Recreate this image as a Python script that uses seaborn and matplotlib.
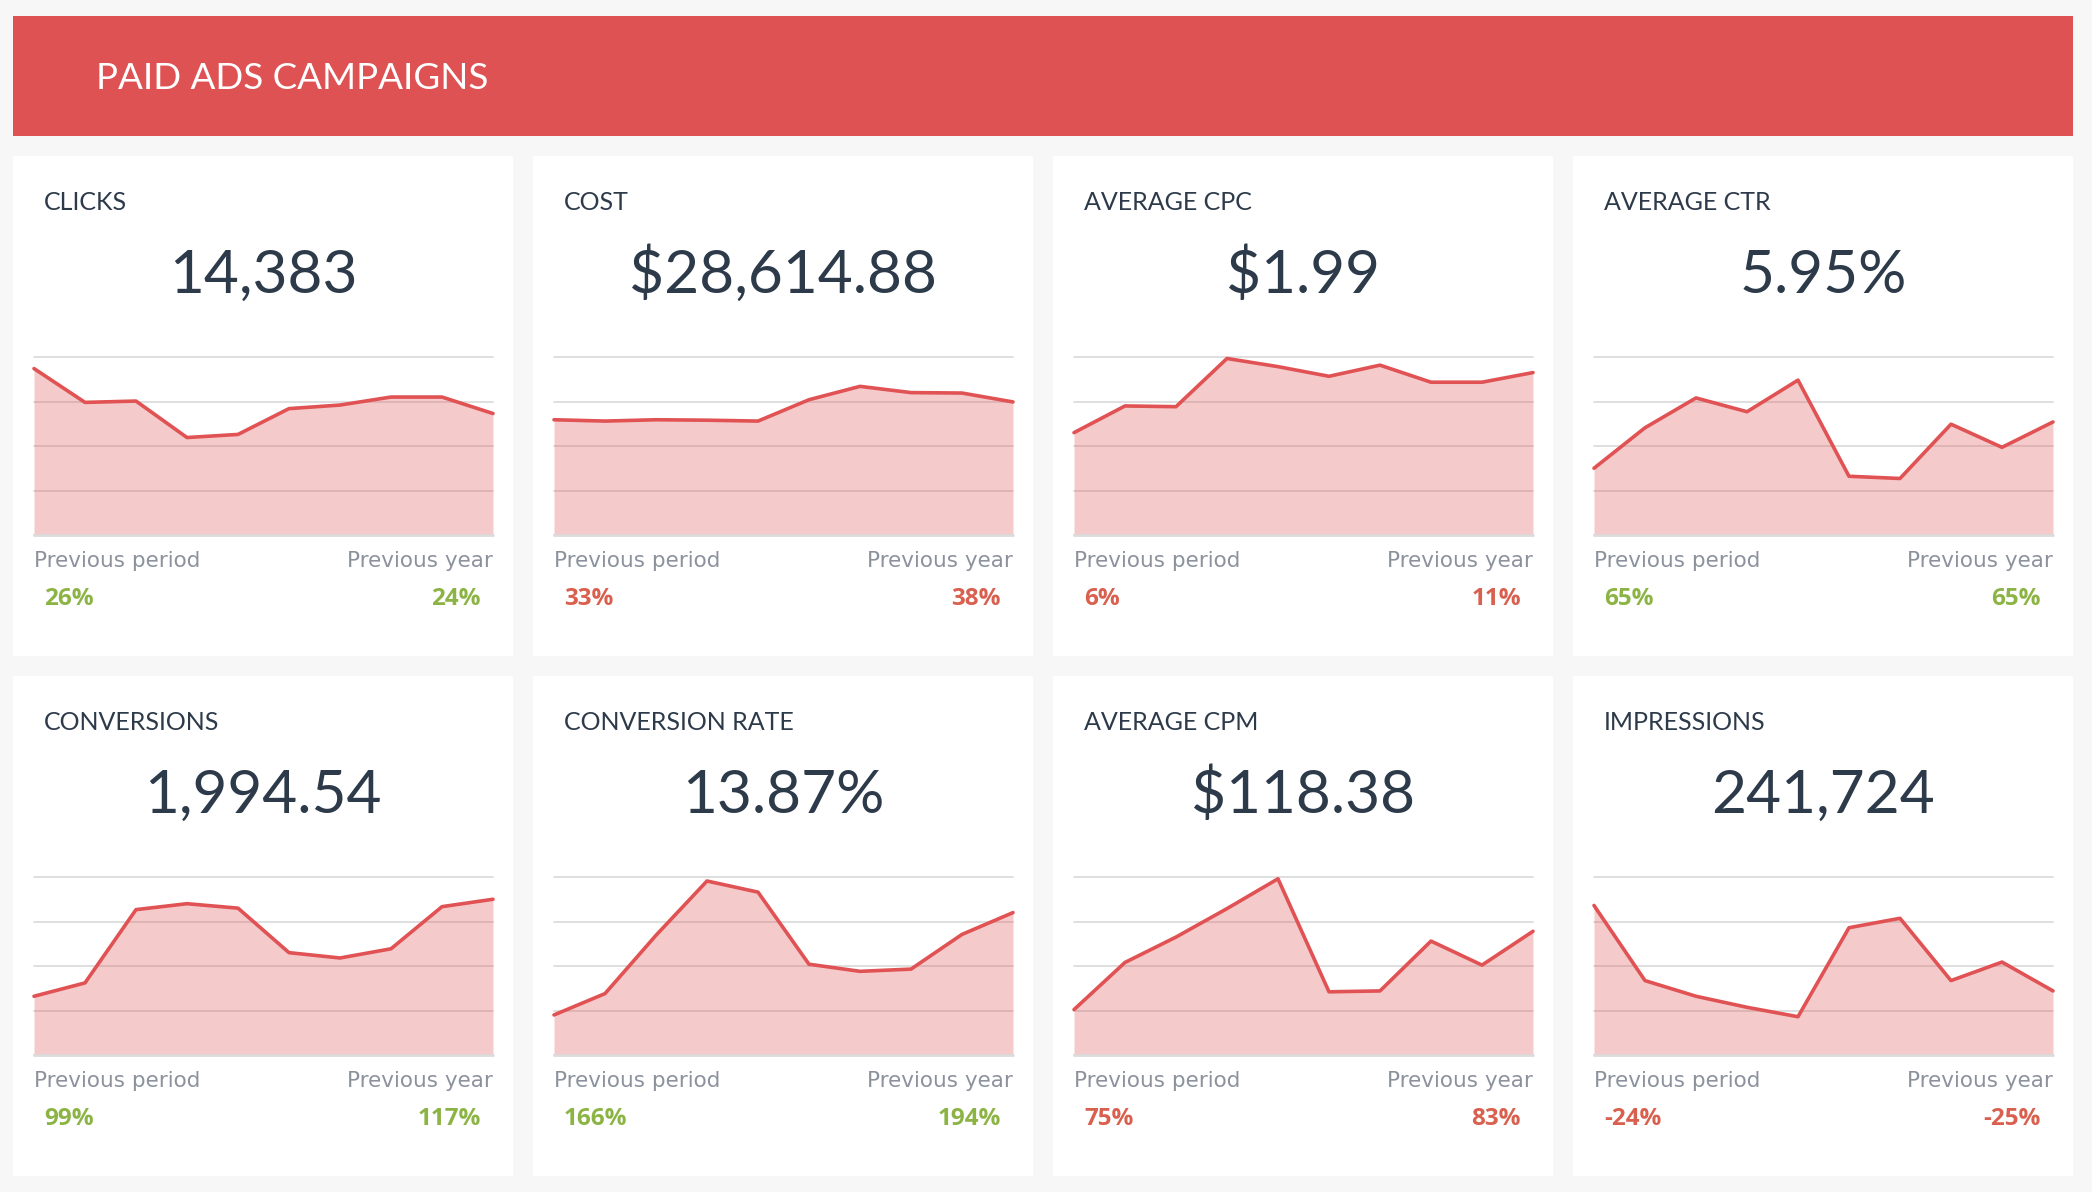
# Paid ads campaign dashboard: eight KPI cards with sparkline area charts
import numpy as np
import matplotlib.pyplot as plt
import matplotlib.patches as patches
import seaborn as sns

# Data (one value per period)
periods = list(range(1, 11))
clicks = [1870, 1490, 1505, 1095, 1130, 1420, 1460, 1550, 1550, 1365]
cost = [2590, 2560, 2590, 2580, 2560, 3040, 3340, 3200, 3190, 2990]
avg_cpc = [1.38, 1.74, 1.73, 2.38, 2.27, 2.14, 2.29, 2.06, 2.06, 2.19]
avg_ctr = [4.50, 7.23, 9.24, 8.31, 10.44, 3.96, 3.81, 7.47, 5.91, 7.62]
conversions = [99, 121.5, 245, 255, 247.5, 172.5, 163.5, 179, 250, 262.5]
conversion_rate = [5.40, 8.28, 16.14, 23.46, 21.96, 12.24, 11.28, 11.58, 16.26, 19.20]
avg_cpm = [61.2, 124.8, 159.0, 197.4, 237.6, 85.2, 86.4, 153.6, 121.2, 166.8]
impressions = [42000, 20900, 16500, 13400, 10750, 35750, 38400, 20900, 26100, 18000]

titles = ["CLICKS", "COST", "AVERAGE CPC", "AVERAGE CTR",
          "CONVERSIONS", "CONVERSION RATE", "AVERAGE CPM", "IMPRESSIONS"]
headline = ["14,383", "$28,614.88", "$1.99", "5.95%",
            "1,994.54", "13.87%", "$118.38", "241,724"]
series = [clicks, cost, avg_cpc, avg_ctr, conversions, conversion_rate, avg_cpm, impressions]
axis_top = [2000, 4000, 2.4, 12, 300, 24, 240, 50000]
prev_period = ["26%", "33%", "6%", "65%", "99%", "166%", "75%", "-24%"]
prev_year = ["24%", "38%", "11%", "65%", "117%", "194%", "83%", "-25%"]
is_good = [True, False, False, True, True, True, False, False]

# Colours
BG = "#f7f7f7"
HEADER = "#df5253"
LINE = "#e05253"
DARK = "#2d3a4a"
GRAY = "#8c929d"
GREEN = "#8cb444"
RED = "#d9604f"
GRID = "#dcdcdc"

sns.set_theme(style="white")
plt.rcParams["font.family"] = ["Lato", "DejaVu Sans"]

W, H = 2092, 1192
fig = plt.figure(figsize=(W / 100, H / 100), dpi=100, facecolor=BG)


def fx(x):
    return x / W


def fy(y):
    return 1 - y / H


# Header band
fig.add_artist(patches.Rectangle((fx(13), fy(136)), (2073 - 13) / W, (136 - 16) / H,
                                 transform=fig.transFigure, facecolor=HEADER,
                                 edgecolor="none", zorder=-1))
fig.text(fx(96), fy(89), "PAID ADS CAMPAIGNS", color="white", fontsize=26.5, va="baseline")

for i in range(8):
    col, row = i % 4, i // 4
    left = 13 + 520 * col
    top = 156 + 520 * row

    # Card background
    fig.add_artist(patches.Rectangle((fx(left), fy(top + 500)), 500 / W, 500 / H,
                                     transform=fig.transFigure, facecolor="white",
                                     edgecolor="none", zorder=-1))

    fig.text(fx(left + 31), fy(top + 54), titles[i], fontsize=18, color=DARK, va="baseline")
    fig.text(fx(left + 250), fy(top + 137), headline[i], fontsize=43.5, color=DARK,
             ha="center", va="baseline")

    # Sparkline area chart
    ax = fig.add_axes([fx(left + 21), fy(top + 379), 459 / W, 178 / H])
    ax.patch.set_alpha(0)
    top_val = axis_top[i]
    ax.set_yticks(np.linspace(0, top_val, 5))
    ax.yaxis.grid(True, color=GRID, lw=1.3)
    ax.set_axisbelow(True)
    for gl in ax.get_ygridlines():
        gl.set_clip_on(False)
    ax.fill_between(periods, series[i], 0, color=LINE, alpha=0.3, lw=0, zorder=1)
    sns.lineplot(x=periods, y=series[i], ax=ax, color=LINE, lw=2.6, zorder=2, clip_on=False)
    ax.axhline(0, color=GRID, lw=2, zorder=3, clip_on=False)
    ax.set_xlim(periods[0], periods[-1])
    ax.set_ylim(0, top_val)
    ax.tick_params(left=False, bottom=False, labelleft=False, labelbottom=False)
    ax.set_xlabel("")
    ax.set_ylabel("")
    for s in ax.spines.values():
        s.set_visible(False)

    # Comparison labels
    fig.text(fx(left + 21), fy(top + 411), "Previous period", fontsize=15.5, color=GRAY,
             va="baseline", family=["DejaVu Sans"])
    fig.text(fx(left + 480), fy(top + 411), "Previous year", fontsize=15.5, color=GRAY,
             va="baseline", ha="right", family=["DejaVu Sans"])
    c = GREEN if is_good[i] else RED
    fig.text(fx(left + 31), fy(top + 449), prev_period[i], fontsize=17.5, color=c,
             fontweight="bold", va="baseline", family=["Open Sans", "DejaVu Sans"])
    fig.text(fx(left + 468), fy(top + 449), prev_year[i], fontsize=17.5, color=c,
             fontweight="bold", va="baseline", ha="right", family=["Open Sans", "DejaVu Sans"])

fig.savefig("out.png", dpi=100, facecolor=fig.get_facecolor())
